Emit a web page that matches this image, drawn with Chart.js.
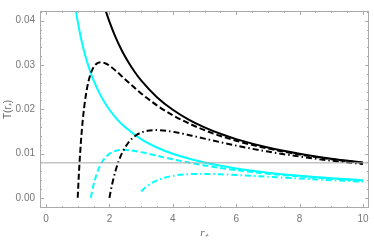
<!DOCTYPE html>
<html>
<head>
<meta charset="utf-8">
<script src="https://cdn.jsdelivr.net/npm/chart.js@4/dist/chart.umd.min.js"></script>
<style>
  html, body { margin: 0; padding: 0; background: #fff; }
  #wrap { width: 374px; height: 240px; }
</style>
</head>
<body>
<div id="wrap"><canvas id="chart"></canvas></div>
<script>
// values
const rBlackSolid = [1.85, 1.9, 2.0, 2.2, 2.4, 2.6, 2.8, 3.0, 3.5, 4, 4.5, 5, 5.5, 6, 7, 8, 9, 10];
const tBlackSolid = [0.04301, 0.04188, 0.03979, 0.03617, 0.03316, 0.03061, 0.02842, 0.02653, 0.02274, 0.01989, 0.01768, 0.01592, 0.01447, 0.01326, 0.01137, 0.00995, 0.00884, 0.00796];

const rBlackDash = [1.0, 1.02, 1.05, 1.1, 1.15, 1.2, 1.3, 1.4, 1.5, 1.6, 1.732, 1.9, 2.0, 2.2, 2.5, 3.0, 3.5, 4, 5, 6, 7, 8, 9, 10];
const tBlackDash = [0, 0.00303, 0.00705, 0.01256, 0.01687, 0.02026, 0.02499, 0.02784, 0.02947, 0.03031, 0.03063, 0.03028, 0.02984, 0.02870, 0.02674, 0.02358, 0.02088, 0.01865, 0.01528, 0.01289, 0.01114, 0.00979, 0.00873, 0.00788];

const rBlackDot = [2.0, 2.05, 2.1, 2.2, 2.3, 2.4, 2.6, 2.8, 3.0, 3.2, 3.464, 3.8, 4.2, 4.6, 5, 6, 7, 8, 9, 10];
const tBlackDot = [0, 0.00187, 0.00352, 0.00628, 0.00844, 0.01013, 0.01250, 0.01392, 0.01474, 0.01515, 0.01531, 0.01514, 0.01465, 0.01403, 0.01337, 0.01179, 0.01044, 0.00933, 0.00840, 0.00764];

const rCyanSolid = [0.92, 0.95, 1.0, 1.1, 1.2, 1.3, 1.4, 1.5, 1.75, 2.0, 2.25, 2.5, 3, 3.5, 4, 5, 6, 7, 8, 9, 10];
const tCyanSolid = [0.04325, 0.04188, 0.03979, 0.03617, 0.03316, 0.03061, 0.02842, 0.02653, 0.02274, 0.01989, 0.01768, 0.01592, 0.01326, 0.01137, 0.00995, 0.00796, 0.00663, 0.00568, 0.00497, 0.00442, 0.00398];

const rCyanDash = [1.4142, 1.45, 1.5, 1.6, 1.7, 1.8, 2.0, 2.2, 2.449, 2.7, 3.0, 3.5, 4, 5, 6, 7, 8, 9, 10];
const tCyanDash = [0, 0.00134, 0.00295, 0.00544, 0.00721, 0.00846, 0.00995, 0.01061, 0.01083, 0.01069, 0.01032, 0.00951, 0.00870, 0.00732, 0.00626, 0.00545, 0.00481, 0.00431, 0.00390];

const rCyanDot = [3.0, 3.2, 3.5, 4.0, 4.5, 4.9, 5.5, 6, 7, 8, 9, 10];
const tCyanDot = [0.00147, 0.00272, 0.00394, 0.00497, 0.00535, 0.00541, 0.00532, 0.00516, 0.00475, 0.00435, 0.00398, 0.00366];

const refLineT = 0.0079;
const xTicks = [0, 2, 4, 6, 8, 10];
const yTicks = [0.00, 0.01, 0.02, 0.03, 0.04];

const pts = (xs, ys) => xs.map((x, i) => ({ x: x, y: ys[i] }));

const line = (data, color, dash) => ({
  data: data,
  borderColor: color,
  borderWidth: 2,
  borderDash: dash,
  pointRadius: 0,
  fill: false,
  cubicInterpolationMode: "monotone",
});

// mathematica style frame with inward ticks
const frameTicks = {
  id: "frameTicks",
  afterDatasetsDraw(chart) {
    const { ctx, chartArea: a, scales } = chart;
    const xs = scales.x, ys = scales.y;
    ctx.save();
    ctx.strokeStyle = "#aaa";
    ctx.lineWidth = 1;
    ctx.strokeRect(a.left + 0.5, a.top + 0.5, a.right - a.left - 1, a.bottom - a.top - 1);
    ctx.beginPath();
    for (let v = 0; v <= 10.001; v += 0.5) {
      const px = Math.round(xs.getPixelForValue(v)) + 0.5;
      const len = Math.abs(v % 2) < 0.01 ? 4 : 2;
      ctx.moveTo(px, a.bottom); ctx.lineTo(px, a.bottom - len);
      ctx.moveTo(px, a.top); ctx.lineTo(px, a.top + len);
    }
    for (let i = -1; i <= 21; i++) {
      const v = i * 0.002;
      if (v < ys.min || v > ys.max) continue;
      const py = Math.round(ys.getPixelForValue(v)) + 0.5;
      const len = i % 5 === 0 ? 4 : 2;
      ctx.moveTo(a.left, py); ctx.lineTo(a.left + len, py);
      ctx.moveTo(a.right, py); ctx.lineTo(a.right - len, py);
    }
    ctx.stroke();
    ctx.restore();
  },
};

const tickFont = { family: "Liberation Sans", size: 10 };

new Chart(document.getElementById("chart"), {
  type: "line",
  data: {
    datasets: [
      {
        data: [{ x: -0.2, y: refLineT }, { x: 10.2, y: refLineT }],
        borderColor: "#a6a6a6",
        borderWidth: 1,
        pointRadius: 0,
      },
      line(pts(rBlackSolid, tBlackSolid), "#000", []),
      line(pts(rBlackDash, tBlackDash), "#000", [6, 3]),
      line(pts(rBlackDot, tBlackDot), "#000", [6, 3, 1.5, 3]),
      line(pts(rCyanSolid, tCyanSolid), "#00ffff", []),
      line(pts(rCyanDash, tCyanDash), "#00ffff", [6, 3]),
      line(pts(rCyanDot, tCyanDot), "#00ffff", [6, 3, 1.5, 3]),
    ],
  },
  options: {
    responsive: true,
    maintainAspectRatio: false,
    animation: false,
    events: [],
    layout: { padding: { top: 4, right: 5, left: 0, bottom: 0 } },
    plugins: { legend: { display: false }, tooltip: { enabled: false } },
    scales: {
      x: {
        type: "linear",
        min: -0.19,
        max: 10.19,
        afterFit: (s) => { s.height = 32; },
        afterBuildTicks: (s) => { s.ticks = xTicks.map((v) => ({ value: v })); },
        grid: { display: false, drawTicks: false },
        border: { display: false },
        ticks: { color: "#777", font: tickFont, padding: 5 },
        title: {
          display: true,
          text: "r₊",
          color: "#666",
          font: { family: "Liberation Serif", size: 11, style: "italic" },
          padding: 0,
        },
      },
      y: {
        type: "linear",
        min: -0.0023,
        max: 0.0422,
        afterFit: (s) => { s.width = 40; },
        afterBuildTicks: (s) => { s.ticks = yTicks.map((v) => ({ value: v })); },
        grid: { display: false, drawTicks: false },
        border: { display: false },
        ticks: {
          color: "#777",
          font: tickFont,
          padding: 5,
          callback: (v) => v.toFixed(2),
        },
        title: {
          display: true,
          text: "T(r₊)",
          color: "#666",
          font: { family: "Liberation Sans", size: 10 },
          padding: { top: 2, bottom: 0 },
        },
      },
    },
  },
  plugins: [frameTicks],
});
</script>
</body>
</html>
